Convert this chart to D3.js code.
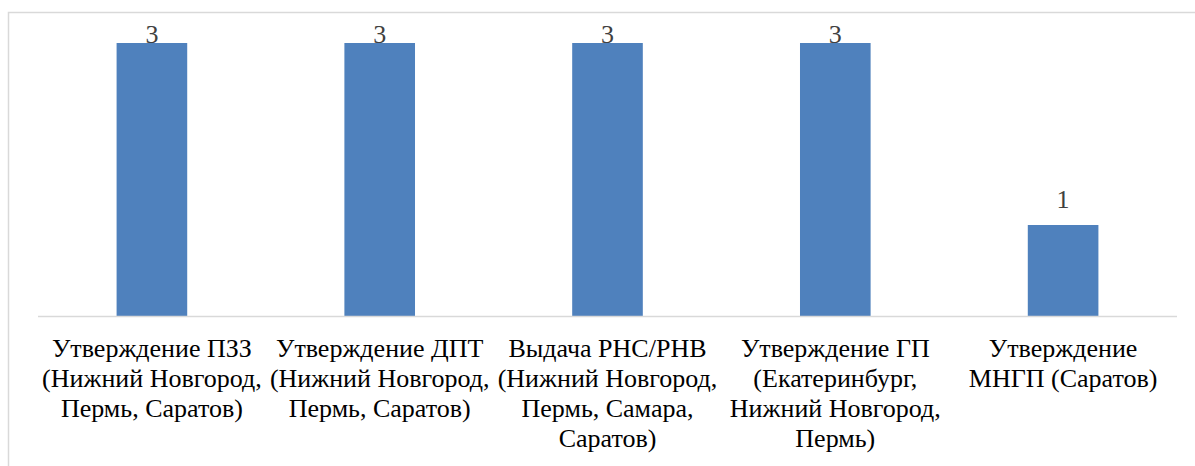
<!DOCTYPE html>
<html>
<head>
<meta charset="utf-8">
<script src="https://cdn.jsdelivr.net/npm/d3@7"></script>
<style>
  body { margin: 0; background: #fff; }
  svg { display: block; }
</style>
</head>
<body>
<div id="chart"></div>
<script>
// categories (line-wrapped as in the original) and values
var categories = [
    ["Утверждение ПЗЗ", "(Нижний Новгород,", "Пермь, Саратов)"],
    ["Утверждение ДПТ", "(Нижний Новгород,", "Пермь, Саратов)"],
    ["Выдача РНС/РНВ", "(Нижний Новгород,", "Пермь, Самара,", "Саратов)"],
    ["Утверждение ГП", "(Екатеринбург,", "Нижний Новгород,", "Пермь)"],
    ["Утверждение", "МНГП (Саратов)"]
];
var values = [3, 3, 3, 3, 1];

var width = 1195, height = 466;
var margin = {top: 43, left: 38, right: 18, bottom: 150};
var font = "Liberation Serif";

var svg = d3.select("#chart").append("svg")
    .attr("width", width).attr("height", height);

// chart border (right and bottom edges fall outside the picture)
svg.append("rect")
    .attr("x", 8.5).attr("y", 12.5)
    .attr("width", 1300).attr("height", 600)
    .attr("fill", "none").attr("stroke", "#d9d9d9").attr("stroke-width", 1.5);

var x = d3.scaleBand()
    .domain(d3.range(categories.length))
    .range([margin.left, width - margin.right]);

var y = d3.scaleLinear()
    .domain([0, 3])
    .range([height - margin.bottom, margin.top]);

var barW = x.bandwidth() * 0.31;

svg.selectAll("rect.bar").data(values).enter().append("rect")
    .attr("class", "bar")
    .attr("x", function (d, i) { return x(i) + x.bandwidth() / 2 - barW / 2; })
    .attr("y", function (d) { return y(d); })
    .attr("width", barW)
    .attr("height", function (d) { return y(0) - y(d); })
    .attr("fill", "#4f81bd");

// axis line
svg.append("line")
    .attr("x1", margin.left).attr("x2", width - margin.right)
    .attr("y1", y(0) + 0.5).attr("y2", y(0) + 0.5)
    .attr("stroke", "#d9d9d9").attr("stroke-width", 1.5);

// value labels
svg.selectAll("text.val").data(values).enter().append("text")
    .attr("class", "val")
    .attr("x", function (d, i) { return x(i) + x.bandwidth() / 2; })
    .attr("y", function (d) { return Math.max(y(d) - 17, margin.top); })
    .attr("text-anchor", "middle")
    .attr("font-family", font)
    .attr("font-size", 26)
    .attr("fill", "#404040")
    .text(function (d) { return d; });

// category labels
var lab = svg.selectAll("text.cat").data(categories).enter().append("text")
    .attr("class", "cat")
    .attr("text-anchor", "middle")
    .attr("font-family", font)
    .attr("font-size", 26)
    .attr("fill", "#000");

lab.selectAll("tspan").data(function (d, i) {
        return d.map(function (s) { return {s: s, i: i}; });
    }).enter().append("tspan")
    .attr("x", function (d) { return x(d.i) + x.bandwidth() / 2; })
    .attr("y", function (d, j) { return y(0) + 41 + j * 30; })
    .text(function (d) { return d.s; });
</script>
</body>
</html>
